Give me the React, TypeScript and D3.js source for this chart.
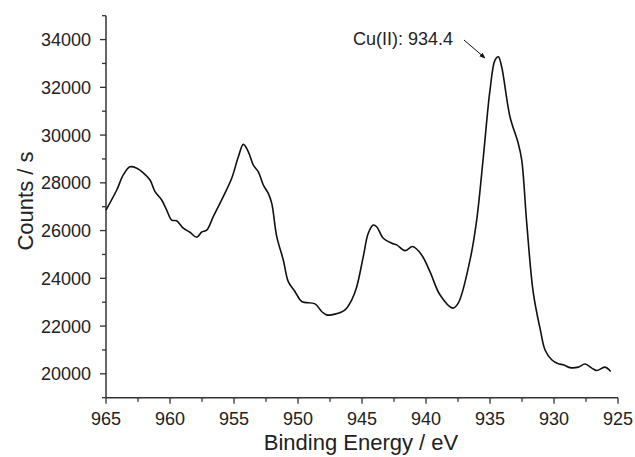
import React from "react";
import * as d3 from "d3";

const energy = [965.0, 964.16, 963.65, 963.13, 962.6, 962.09, 961.56, 961.17, 960.65, 960.26, 959.87, 959.48, 958.96, 958.44, 957.91, 957.52, 957.13, 956.62, 955.84, 955.18, 954.66, 954.27, 953.88, 953.49, 953.1, 952.71, 952.32, 952.05, 951.66, 951.15, 950.76, 950.23, 949.71, 948.67, 948.15, 947.76, 947.11, 946.33, 945.8, 945.41, 944.9, 944.51, 944.12, 943.85, 943.34, 942.68, 942.29, 941.64, 941.04, 940.34, 939.69, 938.91, 937.91, 937.48, 936.56, 936.04, 935.52, 935.0, 934.61, 934.35, 934.09, 933.44, 932.79, 932.52, 932.13, 931.62, 931.05, 930.7, 930.18, 929.66, 929.27, 928.75, 928.1, 927.58, 927.05, 926.66, 926.02, 925.57];
const counts = [26860, 27700, 28330, 28670, 28610, 28420, 28120, 27630, 27280, 26860, 26440, 26410, 26100, 25930, 25720, 25940, 26020, 26580, 27420, 28190, 29090, 29610, 29300, 28740, 28460, 27910, 27560, 27140, 25745, 24770, 23860, 23440, 23030, 22930, 22610, 22470, 22500, 22680, 23100, 23650, 24910, 25890, 26230, 26160, 25680, 25470, 25400, 25160, 25330, 24980, 24280, 23310, 22750, 22960, 24770, 26440, 29090, 31880, 33140, 33280, 32860, 30770, 29650, 28950, 26310, 23400, 21800, 21000, 20590, 20420, 20380, 20260, 20280, 20410, 20240, 20140, 20280, 20100];

const xMajorTicks = [965, 960, 955, 950, 945, 940, 935, 930, 925];
const xMinorTicks = [962.5, 957.5, 952.5, 947.5, 942.5, 937.5, 932.5, 927.5];
const yMajorTicks = [20000, 22000, 24000, 26000, 28000, 30000, 32000, 34000];
const yMinorTicks = [19000, 21000, 23000, 25000, 27000, 29000, 31000, 33000, 35000];

const xLabel = "Binding Energy / eV";
const yLabel = "Counts / s";
const annotationText = "Cu(II): 934.4";

export default function App() {
  const W = 635, H = 457;
  const x = d3.scaleLinear().domain([965, 925]).range([106, 618]);
  const y = d3.scaleLinear().domain([19000, 35000]).range([397.7, 15.7]);
  const data = energy.map((e, i) => [e, counts[i]] as [number, number]);
  const line = d3.line<[number, number]>()
    .x(d => x(d[0]))
    .y(d => y(d[1]))
    .curve(d3.curveCatmullRom.alpha(0.5));
  const font = "'Liberation Sans', Arial, sans-serif";
  const axisColor = "#333";
  const x0 = x(965), y0 = y(19000);
  return (
    <svg width={W} height={H} style={{ position: "absolute", left: 0, top: 0, background: "#fff" }} fontFamily={font}>
      <defs>
        <marker id="arr" viewBox="0 0 10 10" refX="9" refY="5" markerWidth="6" markerHeight="6" orient="auto">
          <path d="M0,1 L10,5 L0,9 Z" fill="#111" />
        </marker>
      </defs>
      {/* axes */}
      <line x1={x0} x2={x0} y1={y(35000)} y2={y0} stroke={axisColor} strokeWidth={1.5} />
      <line x1={x0} x2={x(925)} y1={y0} y2={y0} stroke={axisColor} strokeWidth={1.5} />
      {xMajorTicks.map(t => (
        <g key={"xm" + t}>
          <line x1={x(t)} x2={x(t)} y1={y0} y2={y0 + 6} stroke={axisColor} strokeWidth={1.3} />
          <text x={x(t)} y={425} textAnchor="middle" fontSize={18} fill="#222">{t}</text>
        </g>
      ))}
      {xMinorTicks.map(t => (
        <line key={"xn" + t} x1={x(t)} x2={x(t)} y1={y0} y2={y0 + 4} stroke={axisColor} strokeWidth={1.3} />
      ))}
      {yMajorTicks.map(t => (
        <g key={"ym" + t}>
          <line x1={x0 - 6} x2={x0} y1={y(t)} y2={y(t)} stroke={axisColor} strokeWidth={1.3} />
          <text x={91} y={y(t) + 6.5} textAnchor="end" fontSize={18} fill="#222">{t}</text>
        </g>
      ))}
      {yMinorTicks.map(t => (
        <line key={"yn" + t} x1={x0 - 4} x2={x0} y1={y(t)} y2={y(t)} stroke={axisColor} strokeWidth={1.3} />
      ))}
      {/* axis titles */}
      <text x={361} y={450} textAnchor="middle" fontSize={22} fill="#222">{xLabel}</text>
      <text transform={`translate(33,201) rotate(-90)`} textAnchor="middle" fontSize={22} fill="#222">{yLabel}</text>
      {/* data */}
      <path d={line(data) || ""} fill="none" stroke="#111" strokeWidth={1.6} />
      {/* annotation */}
      <text x={353} y={45} fontSize={18} fill="#222">{annotationText}</text>
      <line x1={464} y1={40} x2={485} y2={58} stroke="#111" strokeWidth={1} markerEnd="url(#arr)" />
    </svg>
  );
}
